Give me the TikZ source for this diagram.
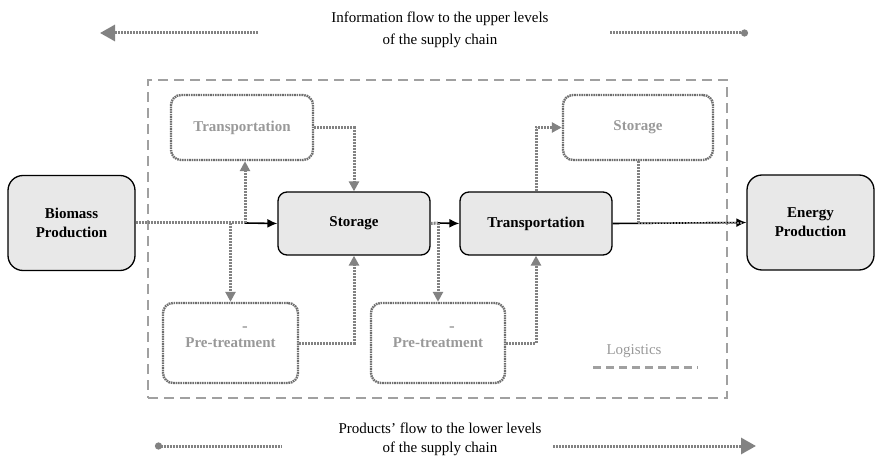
\documentclass[tikz,border=0pt]{standalone}
\usepackage{fontspec}
\setmainfont{Liberation Serif}
\usetikzlibrary{arrows.meta,positioning}
\definecolor{boxfill}{HTML}{E8E8E8}
\definecolor{flowgrey}{HTML}{828282}
\definecolor{framegrey}{HTML}{A0A0A0}
\definecolor{textgrey}{HTML}{999999}
\definecolor{bordergrey}{HTML}{6E6E6E}
\tikzset{
  mainbox/.style={draw=black,line width=1.3pt,fill=boxfill,rounded corners=9pt,inner sep=0pt,
                  align=center,font=\fontsize{15}{19}\selectfont\bfseries},
  endbox/.style={mainbox,rounded corners=15pt,minimum width=127pt,minimum height=95pt},
  greybox/.style={draw=bordergrey,line width=2.4pt,dash pattern=on 1.6pt off 0.8pt,rounded corners=10pt,
                  inner sep=0pt,align=center,text=textgrey,font=\fontsize{15}{19}\selectfont\bfseries},
  framebox/.style={draw=framegrey,line width=2.8pt,dash pattern=on 10pt off 6pt,inner sep=0pt},
  dotflow/.style={draw=flowgrey,line width=3pt,dash pattern=on 2pt off 1pt},
  dotarrow/.style={dotflow,-{Triangle[length=10pt,width=10pt]}},
  mainflow/.style={-{Latex[length=10pt,width=9pt]},draw=black,line width=1.6pt},
  captext/.style={align=center,font=\fontsize{15}{19}\selectfont},
  greytext/.style={text=textgrey,font=\fontsize{15}{19}\selectfont},
}
\begin{document}
\begin{tikzpicture}[x=1pt,y=-1pt]
  \useasboundingbox (0,0) rectangle (876,457);

  % information and product flows
  \node[captext,font=\fontsize{15}{22}\selectfont] (info) at (440,30) {Information flow to the upper levels\\of the supply chain};
  \node[captext] (prod) at (440,439) {Products' flow to the lower levels\\of the supply chain};
  \coordinate (infoA) at (258,33); \coordinate (infoB) at (100,33);
  \coordinate (infoC) at (610,33); \coordinate (infoD) at (748,33);
  \coordinate (prodA) at (155,446); \coordinate (prodB) at (281,446);
  \coordinate (prodC) at (553,446); \coordinate (prodD) at (756,446);
  \draw[dotflow,-{Triangle[length=15pt,width=16pt]}] (infoA) -- (infoB);
  \draw[dotflow,-{Circle[length=7pt]}] (infoC) -- (infoD);
  \draw[dotflow,{Circle[length=7pt]}-] (prodA) -- (prodB);
  \draw[dotflow,-{Triangle[length=15pt,width=16pt]}] (prodC) -- (prodD);

  % logistics frame
  \node[framebox,minimum width=579pt,minimum height=318pt] (logi) at (437.5,239) {};
  \node[greytext] (logt) at (634,351) {Logistics};
  \coordinate (legA) at (593,367); \coordinate (legB) at (698,367);
  \draw[framebox,line width=3pt,dash pattern=on 8pt off 5pt] (legA) -- (legB);

  % main chain
  \node[endbox] (bio) at (71.5,223) {Biomass\\Production};
  \node[mainbox,minimum width=152pt,minimum height=63pt] (sto) at (354,223.5) {Storage};
  \node[mainbox,minimum width=152pt,minimum height=63pt] (trn) at (536,223.5) {Transportation};
  \node[endbox] (ene) at (810.5,222.5) {Energy\\Production};

  % optional steps
  \node[greybox,minimum width=142pt,minimum height=65pt] (trnA) at (242,127.5) {Transportation};
  \node[greybox,minimum width=150pt,minimum height=65pt] (stoB) at (638,127.5) {Storage};
  \node[greybox,minimum width=135pt,minimum height=80pt] (preA) at (230.5,343) {Pre-treatment};
  \node[greybox,minimum width=134pt,minimum height=80pt] (preB) at (438,343) {Pre-treatment};
  \node[greytext,font=\fontsize{17}{19}\selectfont\bfseries,inner sep=0pt] (dashA) at (245,329) {-};
  \node[greytext,font=\fontsize{17}{19}\selectfont\bfseries,inner sep=0pt] (dashB) at (452,329) {-};

  % connectors
  \coordinate (upA) at (245,223); \coordinate (dnA) at (230.5,223);
  \coordinate (dnB) at (438,223); \coordinate (joinB) at (638,223);
  \coordinate (joinE) at (742,223);
  \draw[dotflow] (bio.east) -- (upA);
  \draw[mainflow] (upA) -- (sto.west);
  \draw[dotarrow] (upA) -- (upA |- trnA.south);
  \draw[dotarrow] (dnA) -- (preA.north);
  \draw[dotarrow] (trnA.east) -| (sto.north);
  \draw[dotarrow] (preA.east) -| (sto.south);
  \draw[dotflow] (sto.east) -- (dnB);
  \draw[mainflow] (dnB) -- (trn.west);
  \draw[dotarrow] (dnB) -- (preB.north);
  \draw[dotarrow] (preB.east) -| (trn.south);
  \draw[dotarrow] (trn.north) |- (stoB.west);
  \draw[mainflow] (trn.east) -- (ene.west);
  \draw[dotflow] (stoB.south) -- (joinB);
  \draw[dotflow,line width=1.6pt] (joinB) -- (joinE);
\end{tikzpicture}
\end{document}
